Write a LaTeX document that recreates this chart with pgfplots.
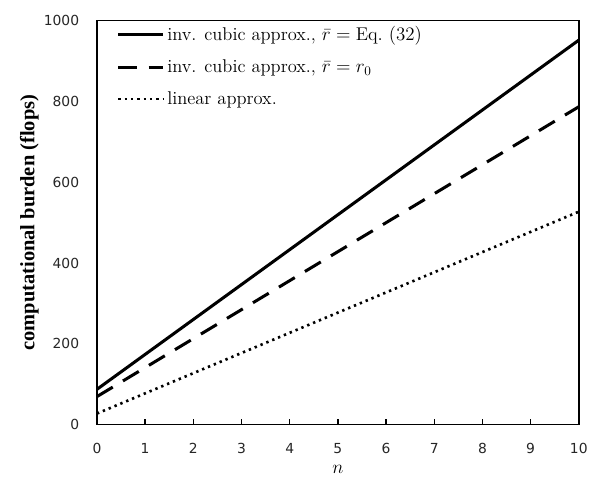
\documentclass[border=0pt]{standalone}
\usepackage{pgfplots}
\pgfplotsset{compat=1.18}
\usepackage{fontspec}
\newfontfamily\tickfont{DejaVu Sans}
\newfontfamily\labfont{Liberation Serif}
\begin{document}
\begin{tikzpicture}
\begin{axis}[
  scale only axis,
  width=365.25pt, height=306pt,
  xmin=0, xmax=10, ymin=0, ymax=1000,
  xtick={0,1,...,10}, ytick={0,200,...,1000},
  axis line style={line width=1.1pt},
  tick align=inside,
  major tick length=4pt,
  ytick style={draw=none},
  x tick style={line width=1pt, black},
  xtick pos=bottom,
  ticklabel style={font=\tickfont\fontsize{10.5}{12}\selectfont, text=black!85},
  /pgf/number format/assume math mode=true,
  /pgf/number format/1000 sep={},
  xticklabel style={yshift=-11pt},
  yticklabel style={xshift=-10pt},
  xlabel={$n$},
  xlabel style={font=\Large, yshift=-2pt},
  ylabel={\labfont\bfseries computational burden (flops)},
  ylabel style={font=\fontsize{15.5}{17}\selectfont, yshift=-3pt},
  legend style={draw=none, fill=none, at={(0.035,1.0)}, anchor=north west,
    font=\fontsize{14}{16}\selectfont, row sep=9pt, inner sep=2pt},
  legend cell align=left,
  legend image code/.code={\draw[#1] (0pt,0pt) -- (34pt,0pt);},
]
\addplot[black, line width=2.3pt] coordinates {(0,87) (10,952)};
\addlegendentry{inv. cubic approx., $\bar{r}=\mathrm{Eq.}\ (32)$}
\addplot[black, line width=2.3pt, dash pattern=on 14pt off 9pt] coordinates {(0,69) (10,787)};
\addlegendentry{inv. cubic approx., $\bar{r} = r_0$}
\addplot[black, line width=2pt, dash pattern=on 1.8pt off 3pt] coordinates {(0,27) (10,527)};
\addlegendentry{linear approx.}
\path (current axis.south west) ++(-73.5pt,-40pt) coordinate (bl);
\path (current axis.north east) ++(5.25pt,15.75pt) coordinate (tr);
\end{axis}
\useasboundingbox (bl) rectangle (tr);
\end{tikzpicture}
\end{document}
